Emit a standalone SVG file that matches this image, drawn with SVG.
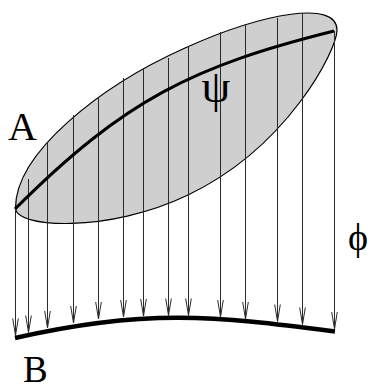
<svg xmlns="http://www.w3.org/2000/svg" width="370" height="386" viewBox="0 0 370 386">
<style>
.lbl{font-family:"Liberation Serif","DejaVu Serif",serif;fill:#000}
.ray{stroke:#2a2a2a;stroke-width:1;fill:none;marker-end:url(#ah)}
</style>
<defs>
<marker id="ah" markerUnits="userSpaceOnUse" viewBox="-18 -4 20 8" refX="0" refY="0" markerWidth="20" markerHeight="8" orient="auto" overflow="visible">
<path d="M-17,-2.8 L0,0 L-17,2.8" fill="none" stroke="#2a2a2a" stroke-width="1"/>
</marker>
</defs>
<rect width="370" height="386" fill="#fff"/>
<g id="A">
<path d="M15.5,208 C15.5,153 100,86 185,48 C265,12 337,0 337,30 C337,50 288,147 188,195 C108,233.4 15.5,228 15.5,208 Z" fill="#cfcfcf" stroke="#000" stroke-width="1.2"/>
</g>
<g id="connectors">
<line class="ray" x1="15.5" y1="209" x2="15.5" y2="335.5"/>
<line class="ray" x1="28.5" y1="179" x2="28.5" y2="332.5"/>
<line class="ray" x1="47.5" y1="142" x2="47.5" y2="328"/>
<line class="ray" x1="73.5" y1="115" x2="73.5" y2="323"/>
<line class="ray" x1="98.5" y1="97" x2="98.5" y2="319"/>
<line class="ray" x1="123.5" y1="78" x2="123.5" y2="317"/>
<line class="ray" x1="143.5" y1="69" x2="143.5" y2="316"/>
<line class="ray" x1="168.5" y1="58" x2="168.5" y2="315.5"/>
<line class="ray" x1="188.5" y1="46" x2="188.5" y2="315.5"/>
<line class="ray" x1="220.5" y1="32" x2="220.5" y2="317"/>
<line class="ray" x1="245.5" y1="25" x2="245.5" y2="319"/>
<line class="ray" x1="277.5" y1="18" x2="277.5" y2="321.5"/>
<line class="ray" x1="302.5" y1="13" x2="302.5" y2="324.5"/>
<line class="ray" x1="334.5" y1="31" x2="334.5" y2="329"/>
</g>
<g id="psi">
<path d="M15,209 C125,99 194,66 334,31" fill="none" stroke="#000" stroke-width="3"/>
<text class="lbl" x="216" y="102" font-size="46" text-anchor="middle">ψ</text>
</g>
<g id="B">
<path d="M15,338 C145,308.1 215,315.9 335,331.5" fill="none" stroke="#000" stroke-width="4.5"/>
<text class="lbl" x="23" y="382" font-size="37">B</text>
</g>
<g id="labelA">
<text class="lbl" x="8" y="140" font-size="40">A</text>
</g>
<g id="phi">
<text class="lbl" x="358" y="250" font-size="38" text-anchor="middle">ϕ</text>
</g>
</svg>
